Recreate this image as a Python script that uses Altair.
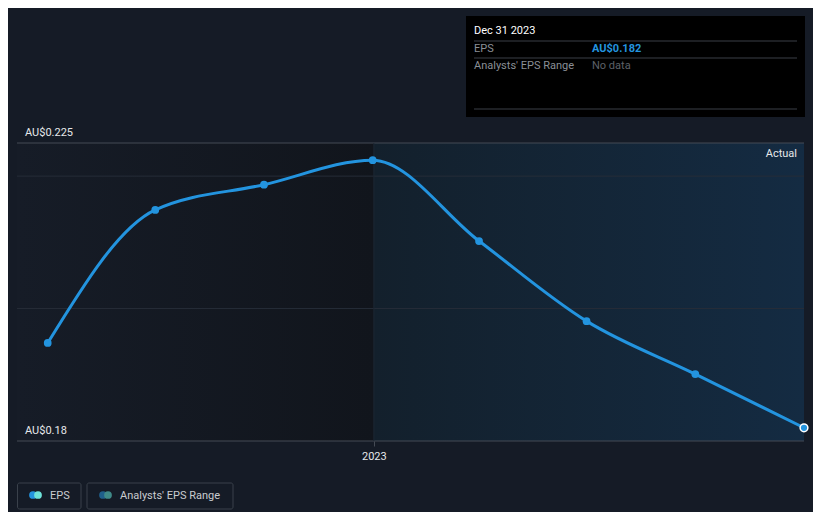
import altair as alt
import pandas as pd

# ---- data ----
dates = ["2022-03-31", "2022-06-30", "2022-09-30", "2022-12-31",
         "2023-03-31", "2023-06-30", "2023-09-30", "2023-12-31"]
eps = [0.1948, 0.2149, 0.2187, 0.2224, 0.2102, 0.1981, 0.1901, 0.182]

x_domain = ["2022-03-05", "2023-12-31"]
x_tick_values = ["2023-01-01"]
y_domain = [0.18, 0.225]
grid_values = [0.20, 0.22]
edge_values = [0.18, 0.225]
edge_labels = ["AU$0.18", "AU$0.225"]
region_start = ["2022-03-05", "2023-01-01"]
region_end = ["2023-01-01", "2023-12-31"]

BG = "#151b26"
BLUE = "#2394df"
FONT = "Roboto"

W, H = 787, 298

xs = alt.Scale(domain=x_domain, type="time")
ys = alt.Scale(domain=y_domain, nice=False, zero=False)
XAX = alt.Axis(values=[pd.Timestamp(v).isoformat() for v in x_tick_values],
               format="%Y", title=None, domain=False, grid=False,
               tickColor="#454b55", tickSize=5, labelColor="#e6e8ea",
               labelFont=FONT, labelFontSize=11, labelPadding=4)

df = pd.DataFrame({"date": pd.to_datetime(dates), "eps": eps})
one = pd.DataFrame({"a": [0]})

# background regions
past = alt.Chart(pd.DataFrame({"s": pd.to_datetime([region_start[0]]),
                               "e": pd.to_datetime([region_end[0]])})).mark_rect(
    color=alt.LinearGradient(gradient="linear",
                             stops=[alt.GradientStop(color="#161c27", offset=0),
                                    alt.GradientStop(color="#11151c", offset=1)],
                             x1=0, x2=1, y1=0, y2=0)
).encode(x=alt.X("s:T", scale=xs, axis=XAX), x2="e:T",
         y=alt.value(0), y2=alt.value(H))

actual = alt.Chart(pd.DataFrame({"s": pd.to_datetime([region_start[1]]),
                                 "e": pd.to_datetime([region_end[1]])})).mark_rect(
    color=alt.LinearGradient(gradient="linear",
                             stops=[alt.GradientStop(color="#13202c", offset=0),
                                    alt.GradientStop(color="#142b42", offset=1)],
                             x1=0, x2=1, y1=0, y2=0)
).encode(x=alt.X("s:T", scale=xs, axis=XAX), x2="e:T",
         y=alt.value(0), y2=alt.value(H))

# grid lines
grid = alt.Chart(pd.DataFrame({"v": grid_values})).mark_rule(
    color="#262d38", strokeWidth=1
).encode(y=alt.Y("v:Q", scale=ys, axis=None))

edges = alt.Chart(pd.DataFrame({"v": edge_values, "t": edge_labels})).mark_rule(
    color="#454b55", strokeWidth=1
).encode(y=alt.Y("v:Q", scale=ys, axis=None))

edge_text = alt.Chart(pd.DataFrame({"v": edge_values, "t": edge_labels})).mark_text(
    align="left", baseline="bottom", dy=-5, font=FONT, fontSize=11, color="#e6e8ea"
).encode(y=alt.Y("v:Q", scale=ys, axis=None), x=alt.value(8), text="t:N")

divider = alt.Chart(pd.DataFrame({"d": pd.to_datetime([region_end[0]])})).mark_rule(
    color="#1c2733", strokeWidth=1
).encode(x=alt.X("d:T", scale=xs, axis=XAX), y=alt.value(0), y2=alt.value(H))

line = alt.Chart(df).mark_line(color=BLUE, strokeWidth=3, interpolate="monotone").encode(
    x=alt.X("date:T", scale=xs, axis=XAX), y=alt.Y("eps:Q", scale=ys, axis=None))

pts = alt.Chart(df.iloc[:-1]).mark_circle(color=BLUE, size=60, opacity=1).encode(
    x=alt.X("date:T", scale=xs, axis=XAX), y=alt.Y("eps:Q", scale=ys, axis=None))

last = alt.Chart(df.iloc[-1:]).mark_point(filled=True, fill=BLUE, stroke="#ffffff",
                                           strokeWidth=1.5, size=60, opacity=1).encode(
    x=alt.X("date:T", scale=xs, axis=XAX), y=alt.Y("eps:Q", scale=ys, axis=None))

actual_lbl = alt.Chart(one).mark_text(align="right", baseline="middle", font=FONT,
                                      fontSize=11, color="#e6e8ea").encode(
    x=alt.value(780), y=alt.value(11), text=alt.value("Actual"))

# tooltip box
tip_bg = alt.Chart(one).mark_rect(color="#000000").encode(
    x=alt.value(449), x2=alt.value(788), y=alt.value(-127), y2=alt.value(-26))
tip_lines = alt.Chart(pd.DataFrame({"yy": [-102, -85, -34]})).mark_rule(
    color="#3a3f46", strokeWidth=1).encode(
    x=alt.value(457), x2=alt.value(780), y=alt.Y("yy:Q", scale=None, axis=None))
tip_title = alt.Chart(one).mark_text(align="left", baseline="middle", font=FONT,
                                     fontSize=11, color="#ffffff").encode(
    x=alt.value(457), y=alt.value(-112), text=alt.value("Dec 31 2023"))
tip_k1 = alt.Chart(one).mark_text(align="left", baseline="middle", font=FONT,
                                  fontSize=11, color="#8a8f96").encode(
    x=alt.value(457), y=alt.value(-94), text=alt.value("EPS"))
tip_v1 = alt.Chart(one).mark_text(align="left", baseline="middle", font=FONT,
                                  fontSize=11, fontWeight="bold", color=BLUE).encode(
    x=alt.value(575), y=alt.value(-94), text=alt.value("AU$0.182"))
tip_k2 = alt.Chart(one).mark_text(align="left", baseline="middle", font=FONT,
                                  fontSize=11, color="#8a8f96").encode(
    x=alt.value(457), y=alt.value(-77), text=alt.value("Analysts' EPS Range"))
tip_v2 = alt.Chart(one).mark_text(align="left", baseline="middle", font=FONT,
                                  fontSize=11, color="#5d6168").encode(
    x=alt.value(575), y=alt.value(-77), text=alt.value("No data"))

# legend
leg_box1 = alt.Chart(one).mark_rect(fill=BG, stroke="#3a414b", strokeWidth=1,
                                    cornerRadius=2).encode(
    x=alt.value(0.5), x2=alt.value(64), y=alt.value(340), y2=alt.value(366))
leg_box2 = alt.Chart(one).mark_rect(fill=BG, stroke="#3a414b", strokeWidth=1,
                                    cornerRadius=2).encode(
    x=alt.value(70), x2=alt.value(216), y=alt.value(340), y2=alt.value(366))
leg_c = alt.Chart(pd.DataFrame({"xx": [16, 21, 86, 91],
                                "cc": [BLUE, "#6ee3d9", "#1f5f8b", "#3f8a88"]})).mark_circle(
    size=60, opacity=1).encode(
    x=alt.X("xx:Q", scale=None, axis=None), y=alt.value(352),
    color=alt.Color("cc:N", scale=None))
leg_t1 = alt.Chart(one).mark_text(align="left", baseline="middle", font=FONT,
                                  fontSize=11, color="#c9ccd0").encode(
    x=alt.value(33), y=alt.value(353), text=alt.value("EPS"))
leg_t2 = alt.Chart(one).mark_text(align="left", baseline="middle", font=FONT,
                                  fontSize=11, color="#c9ccd0").encode(
    x=alt.value(103), y=alt.value(353), text=alt.value("Analysts' EPS Range"))

chart = alt.layer(
    past, actual, grid, edges, divider, line, pts, last, edge_text, actual_lbl,
    tip_bg, tip_lines, tip_title, tip_k1, tip_v1, tip_k2, tip_v2,
    leg_box1, leg_box2, leg_c, leg_t1, leg_t2
).properties(
    width=W, height=H, background=BG,
    padding={"left": 9, "top": 135, "right": 9, "bottom": 71},
    autosize=alt.AutoSizeParams(type="none")
).configure_view(strokeWidth=0)

chart.save("out.html", embed_options={"renderer": "svg", "actions": False})
